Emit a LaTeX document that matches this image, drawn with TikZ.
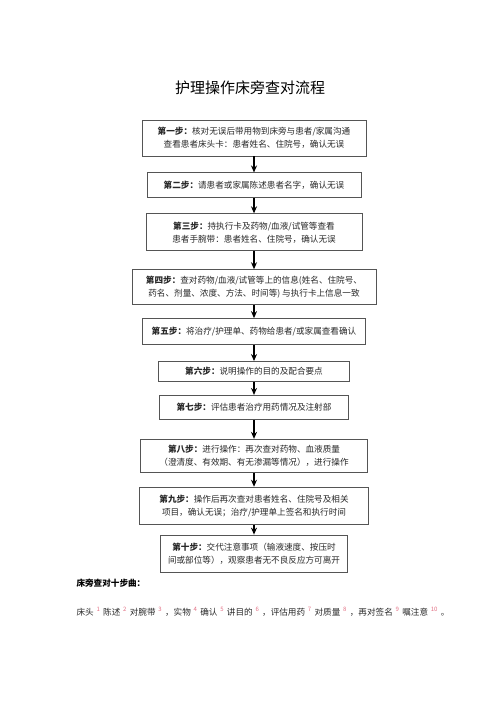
\documentclass[tikz,border=0pt]{standalone}
\usepackage{fontspec}
\setmainfont{Noto Sans CJK SC}
\usepackage{xcolor}
\usetikzlibrary{positioning,arrows.meta}
\definecolor{boxline}{RGB}{85,85,85}
\definecolor{inkgray}{RGB}{40,40,40}
\definecolor{notepink}{RGB}{226,112,132}
\newcommand{\stepno}[1]{{\bfseries #1}}
\newcommand{\snum}[1]{\hspace{2.8pt}\textsuperscript{\color{notepink}#1}\hspace{2.8pt}}

\begin{document}
\begin{tikzpicture}[
  x=1pt,y=1pt,
  >={Stealth[length=7pt,width=6pt]},
  stepbox/.style={rectangle,draw=boxline,line width=0.9pt,fill=white,
    align=center,font=\fontsize{8.6}{13}\selectfont,text=inkgray,
    inner xsep=4pt,inner ysep=3pt},
  flow/.style={->,line width=1.6pt,black}
]
\useasboundingbox (0,0) rectangle (500,-708);
\node[font=\fontsize{15}{18}\selectfont,text=black] (title) at (250,-88) {护理操作床旁查对流程};
\node[stepbox,minimum width=224pt,minimum height=36pt] (s1) at (254,-138)
  {\stepno{第一步：}核对无误后带用物到床旁与患者/家属沟通\\查看患者床头卡：患者姓名、住院号，确认无误};
\node[stepbox,minimum width=214pt,minimum height=25pt,below=16pt of s1] (s2)
  {\stepno{第二步：}请患者或家属陈述患者名字，确认无误};
\node[stepbox,minimum width=216pt,minimum height=37pt,below=15pt of s2] (s3)
  {\stepno{第三步：}持执行卡及药物/血液/试管等查看\\患者手腕带：患者姓名、住院号，确认无误};
\node[stepbox,minimum width=244pt,minimum height=35pt,below=18pt of s3] (s4)
  {\stepno{第四步：}查对药物/血液/试管等上的信息(姓名、住院号、\\药名、剂量、浓度、方法、时间等) 与执行卡上信息一致};
\node[stepbox,minimum width=223pt,minimum height=26pt,below=13pt of s4] (s5)
  {\stepno{第五步：}将治疗/护理单、药物给患者/或家属查看确认};
\node[stepbox,minimum width=191pt,minimum height=20pt,below=16pt of s5] (s6)
  {\stepno{第六步：}说明操作的目的及配合要点};
\node[stepbox,minimum width=189pt,minimum height=24pt,below=13pt of s6] (s7)
  {\stepno{第七步：}评估患者治疗用药情况及注射部};
\node[stepbox,minimum width=227pt,minimum height=33pt,below=19pt of s7] (s8)
  {\stepno{第八步：}进行操作：再次查对药物、血液质量\\（澄清度、有效期、有无渗漏等情况），进行操作};
\node[stepbox,minimum width=229pt,minimum height=37pt,below=14pt of s8] (s9)
  {\stepno{第九步：}操作后再次查对患者姓名、住院号及相关\\项目，确认无误；治疗/护理单上签名和执行时间};
\node[stepbox,minimum width=187pt,minimum height=37pt,below=10pt of s9] (s10)
  {\stepno{第十步：}交代注意事项（输液速度、按压时\\间或部位等），观察患者无不良反应方可离开};
% arrows between the steps
\draw[flow] (s1) -- (s2);
\draw[flow] (s2) -- (s3);
\draw[flow] (s3) -- (s4);
\draw[flow] (s4) -- (s5);
\draw[flow] (s5) -- (s6);
\draw[flow] (s6) -- (s7);
\draw[flow] (s7) -- (s8);
\draw[flow] (s8) -- (s9);
\draw[flow] (s9) -- (s10);
% the ten-step rhyme below
\node[anchor=west,font=\fontsize{8.6}{10}\selectfont\bfseries,text=black] (songhead) at (73,-583) {床旁查对十步曲：};
\node[anchor=west,font=\fontsize{8.6}{10}\selectfont,text=inkgray] (songline) at (73,-612)
  {床头\snum{1}陈述\snum{2}对腕带\snum{3}，实物\snum{4}确认\snum{5}讲目的\snum{6}，评估用药\snum{7}对质量\snum{8}，再对签名\snum{9}嘱注意\snum{10}。};
\end{tikzpicture}
\end{document}
